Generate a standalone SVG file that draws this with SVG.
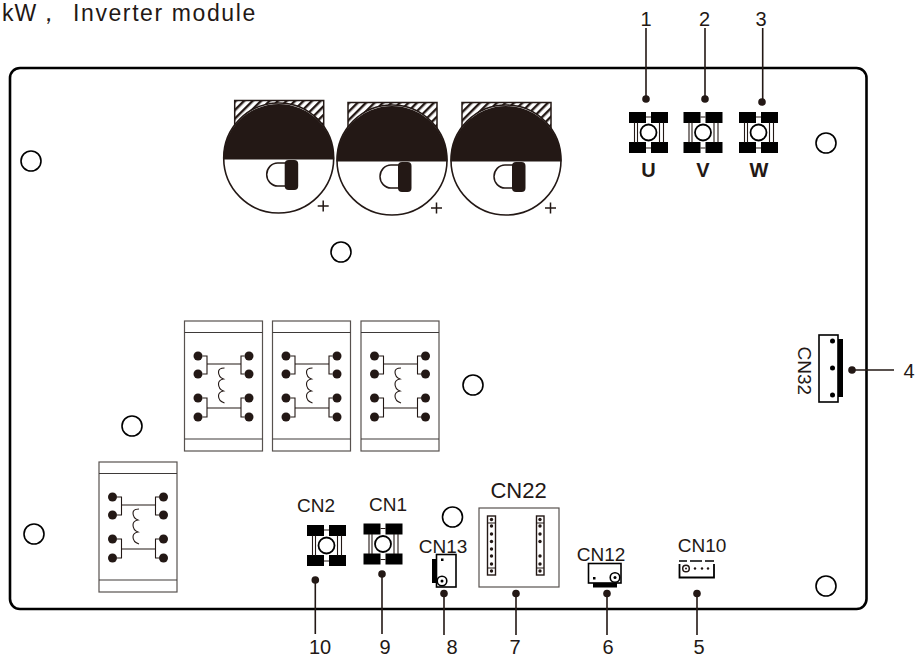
<svg xmlns="http://www.w3.org/2000/svg" width="918" height="658" viewBox="0 0 918 658">
<style>
text{font-family:"Liberation Sans",Arial,sans-serif;fill:#231815;font-size:20px}
.c{text-anchor:middle}
.lab{font-size:19px}
.ln{fill:none;stroke:#231815;stroke-width:1.5}
.lead{fill:none;stroke:#231815;stroke-width:1.6}
.thin{fill:none;stroke:#231815;stroke-width:1.1}
.k{fill:#000}
.d{fill:#231815}
.hole{fill:#fff;stroke:#000;stroke-width:1.6}
.head{font-size:23px}
</style>
<defs>
<pattern id="hatch" width="6" height="6" patternUnits="userSpaceOnUse" patternTransform="rotate(45)">
<rect width="6" height="6" fill="#fff"/><rect width="2.4" height="6" fill="#231815"/>
</pattern>
<g id="cap">
<rect x="-44" y="-57.5" width="89" height="26" fill="url(#hatch)" stroke="#231815" stroke-width="1.5"/>
<circle r="55" fill="#fff" stroke="#231815" stroke-width="1.6"/>
<path d="M-55.5 1.5A55.5 55.5 0 0 1 55.5 1.5Z" fill="#231815"/>
<path d="M8 5H-1A11 11.500 0 0 0 -1 28H8" class="ln"/>
<rect x="6" y="2" width="13.500" height="30" rx="4" fill="#231815"/>
<path d="M39 48H50M44.500 42.500V53.500" class="ln"/>
</g>
<g id="term">
<rect x="-19.500" y="-20.500" width="17" height="11" class="k"/><rect x="2.500" y="-20.500" width="17" height="11" class="k"/>
<rect x="-19.500" y="9.500" width="17" height="11" class="k"/><rect x="2.500" y="9.500" width="17" height="11" class="k"/>
<path d="M-2.500 -15.500H2.500M-2.500 15.500H2.500M-14 -10V10M-11 -10V10M11 -10V10M15 -10V10" class="thin"/>
<circle r="8" fill="#fff" stroke="#000" stroke-width="1.800"/>
</g>
<g id="mod">
<rect x="0" y="0" width="78" height="130" fill="#fff" stroke="#58524f" stroke-width="1.200"/>
<path d="M0 11.500H78M0 118H78" stroke="#3e3a39" stroke-width="1.200" fill="none"/>
<circle cx="13.500" cy="35" r="4.500" class="d"/><circle cx="13.500" cy="53" r="4.500" class="d"/>
<circle cx="13.500" cy="77" r="4.500" class="d"/><circle cx="13.500" cy="96" r="4.500" class="d"/>
<circle cx="64.500" cy="35" r="4.500" class="d"/><circle cx="64.500" cy="53" r="4.500" class="d"/>
<circle cx="64.500" cy="77" r="4.500" class="d"/><circle cx="64.500" cy="96" r="4.500" class="d"/>
<path d="M18 35H22.500V53H18M18 77H22.500V96H18M60 35H56.500V53H60M60 77H56.500V96H60M22.500 43H56.500M22.500 87H56.500" class="thin"/>
<path d="M40 47Q34 47 34 51Q34 56 39 58Q34 59 34 63Q34 68 39 70Q34 71 34 75Q34 80 40 82" class="thin"/>
</g>
<circle id="dot" r="3.800" class="d"/>
</defs>

<g id="title"><text class="head" x="2" y="21" letter-spacing="1">kW，</text><text class="head" x="73" y="21" letter-spacing="1.6">Inverter module</text></g>

<g id="board"><rect x="10" y="68" width="856.500" height="541" rx="10" fill="#fff" stroke="#000" stroke-width="2.600"/></g>

<g id="holes">
<circle class="hole" cx="31" cy="161" r="10"/><circle class="hole" cx="341" cy="252" r="10"/>
<circle class="hole" cx="826" cy="143" r="10"/><circle class="hole" cx="473" cy="385" r="10"/>
<circle class="hole" cx="132" cy="426" r="10"/><circle class="hole" cx="34" cy="534" r="10"/>
<circle class="hole" cx="452.500" cy="517" r="10"/><circle class="hole" cx="826" cy="586" r="10"/>
</g>

<g id="cap1"><use href="#cap" x="278.700" y="158"/></g>
<g id="cap2"><use href="#cap" x="392" y="160"/></g>
<g id="cap3"><use href="#cap" x="506" y="160"/></g>

<g id="U"><use href="#term" x="648.500" y="132.500"/><text class="c" x="648.500" y="177" style="font-weight:bold">U</text></g>
<g id="V"><use href="#term" x="703" y="132.500"/><text class="c" x="703" y="177" style="font-weight:bold">V</text></g>
<g id="W"><use href="#term" x="758.500" y="132.500"/><text class="c" x="759" y="177" style="font-weight:bold">W</text></g>

<g id="mod1"><use href="#mod" x="184.500" y="321"/></g>
<g id="mod2"><use href="#mod" x="272.500" y="321"/></g>
<g id="mod3"><use href="#mod" x="361" y="321"/></g>
<g id="mod4"><use href="#mod" x="99" y="462"/></g>

<g id="CN2"><use href="#term" x="326.500" y="545.500"/><text class="c lab" x="316" y="512">CN2</text></g>
<g id="CN1"><use href="#term" x="383" y="544"/><text class="c lab" x="388" y="511">CN1</text></g>

<g id="CN13"><rect x="436.500" y="554.500" width="19.500" height="32.500" fill="#fff" stroke="#000" stroke-width="1.600"/>
<rect x="432" y="559" width="4.500" height="24" class="k"/><rect x="441" y="558.500" width="2.500" height="2.500" class="k"/>
<circle cx="442" cy="581" r="4.800" fill="#fff" stroke="#000" stroke-width="1.600"/><circle cx="442" cy="581" r="1.500" class="k"/>
<text class="c lab" x="443" y="553">CN13</text></g>

<g id="CN22"><rect x="479" y="508" width="80" height="79" fill="#fff" stroke="#58524f" stroke-width="1.200"/>
<rect x="487.500" y="516" width="8" height="59" fill="#fff" stroke="#231815" stroke-width="1.400"/>
<rect x="536.500" y="516" width="7.500" height="59" fill="#fff" stroke="#231815" stroke-width="1.400"/>
<path d="M487.500 523H495.500M487.500 568H495.500M536.500 523H544M536.500 568H544" class="thin"/>
<g class="d"><circle cx="491.500" cy="519.500" r="1.700"/><circle cx="491.500" cy="526" r="1.700"/><circle cx="491.500" cy="534" r="1.700"/><circle cx="491.500" cy="541.500" r="1.700"/><circle cx="491.500" cy="549" r="1.700"/><circle cx="491.500" cy="556" r="1.700"/><circle cx="491.500" cy="564" r="1.700"/><circle cx="491.500" cy="571" r="1.700"/>
<circle cx="540" cy="519.500" r="1.700"/><circle cx="540" cy="526" r="1.700"/><circle cx="540" cy="534" r="1.700"/><circle cx="540" cy="541.500" r="1.700"/><circle cx="540" cy="556" r="1.700"/><circle cx="540" cy="564" r="1.700"/><circle cx="540" cy="571" r="1.700"/></g>
<text class="c" x="518.500" y="498" style="font-size:22px">CN22</text></g>

<g id="CN12"><rect x="588.500" y="563.500" width="32.500" height="19.500" fill="#fff" stroke="#000" stroke-width="1.600"/>
<rect x="593" y="583" width="24" height="4.500" class="k"/><rect x="593" y="577" width="2.500" height="2.500" class="k"/>
<circle cx="615" cy="577.500" r="4.800" fill="#fff" stroke="#000" stroke-width="1.600"/><circle cx="615" cy="577.500" r="1.500" class="k"/>
<text class="c lab" x="601" y="561">CN12</text></g>

<g id="CN10"><path d="M679 561H687M690 561H702M705 561H714" stroke="#000" stroke-width="1.600" fill="none"/>
<path d="M679.500 564V577.500H714V564" fill="none" stroke="#000" stroke-width="1.800"/>
<circle cx="686" cy="568.500" r="3.300" fill="#fff" stroke="#231815" stroke-width="1.500"/><circle cx="686" cy="568.500" r="1" class="d"/>
<circle cx="695" cy="568.500" r="1.200" class="d"/><circle cx="702" cy="568.500" r="1.200" class="d"/><circle cx="708" cy="568.500" r="1.200" class="d"/>
<text class="c lab" x="702" y="552">CN10</text></g>

<g id="CN32"><rect x="819" y="335" width="19" height="67" fill="#fff" stroke="#000" stroke-width="1.600"/>
<rect x="838" y="339" width="5" height="58" class="k"/>
<circle cx="832.500" cy="341" r="2.500" class="k"/><circle cx="832.500" cy="368" r="2.500" class="k"/><circle cx="832.500" cy="395" r="2.500" class="k"/>
<text class="lab" transform="translate(798 346.500) rotate(90)">CN32</text></g>

<g id="connectors">
<path class="lead" d="M646 28V99M705 28V99M762.700 28V102M852 370H894M315.300 580V634M382 574V634M444 593V635M516 593V635M607 593V635M697 593V635"/>
<use href="#dot" x="646" y="99"/><use href="#dot" x="705" y="99"/><use href="#dot" x="762" y="102"/>
<use href="#dot" x="852" y="370"/><use href="#dot" x="315.300" y="580"/><use href="#dot" x="382" y="574"/>
<use href="#dot" x="444" y="593.500"/><use href="#dot" x="516" y="593.500"/><use href="#dot" x="607" y="593.500"/><use href="#dot" x="697" y="593.500"/>
</g>

<g id="labels">
<text class="c" x="646" y="26">1</text><text class="c" x="704.500" y="26">2</text><text class="c" x="761" y="26">3</text>
<text class="c" x="909" y="378">4</text><text class="c" x="699" y="654">5</text><text class="c" x="608" y="654">6</text>
<text class="c" x="515" y="654">7</text><text class="c" x="452" y="654">8</text><text class="c" x="385" y="654">9</text><text class="c" x="320" y="654">10</text>
</g>
</svg>
